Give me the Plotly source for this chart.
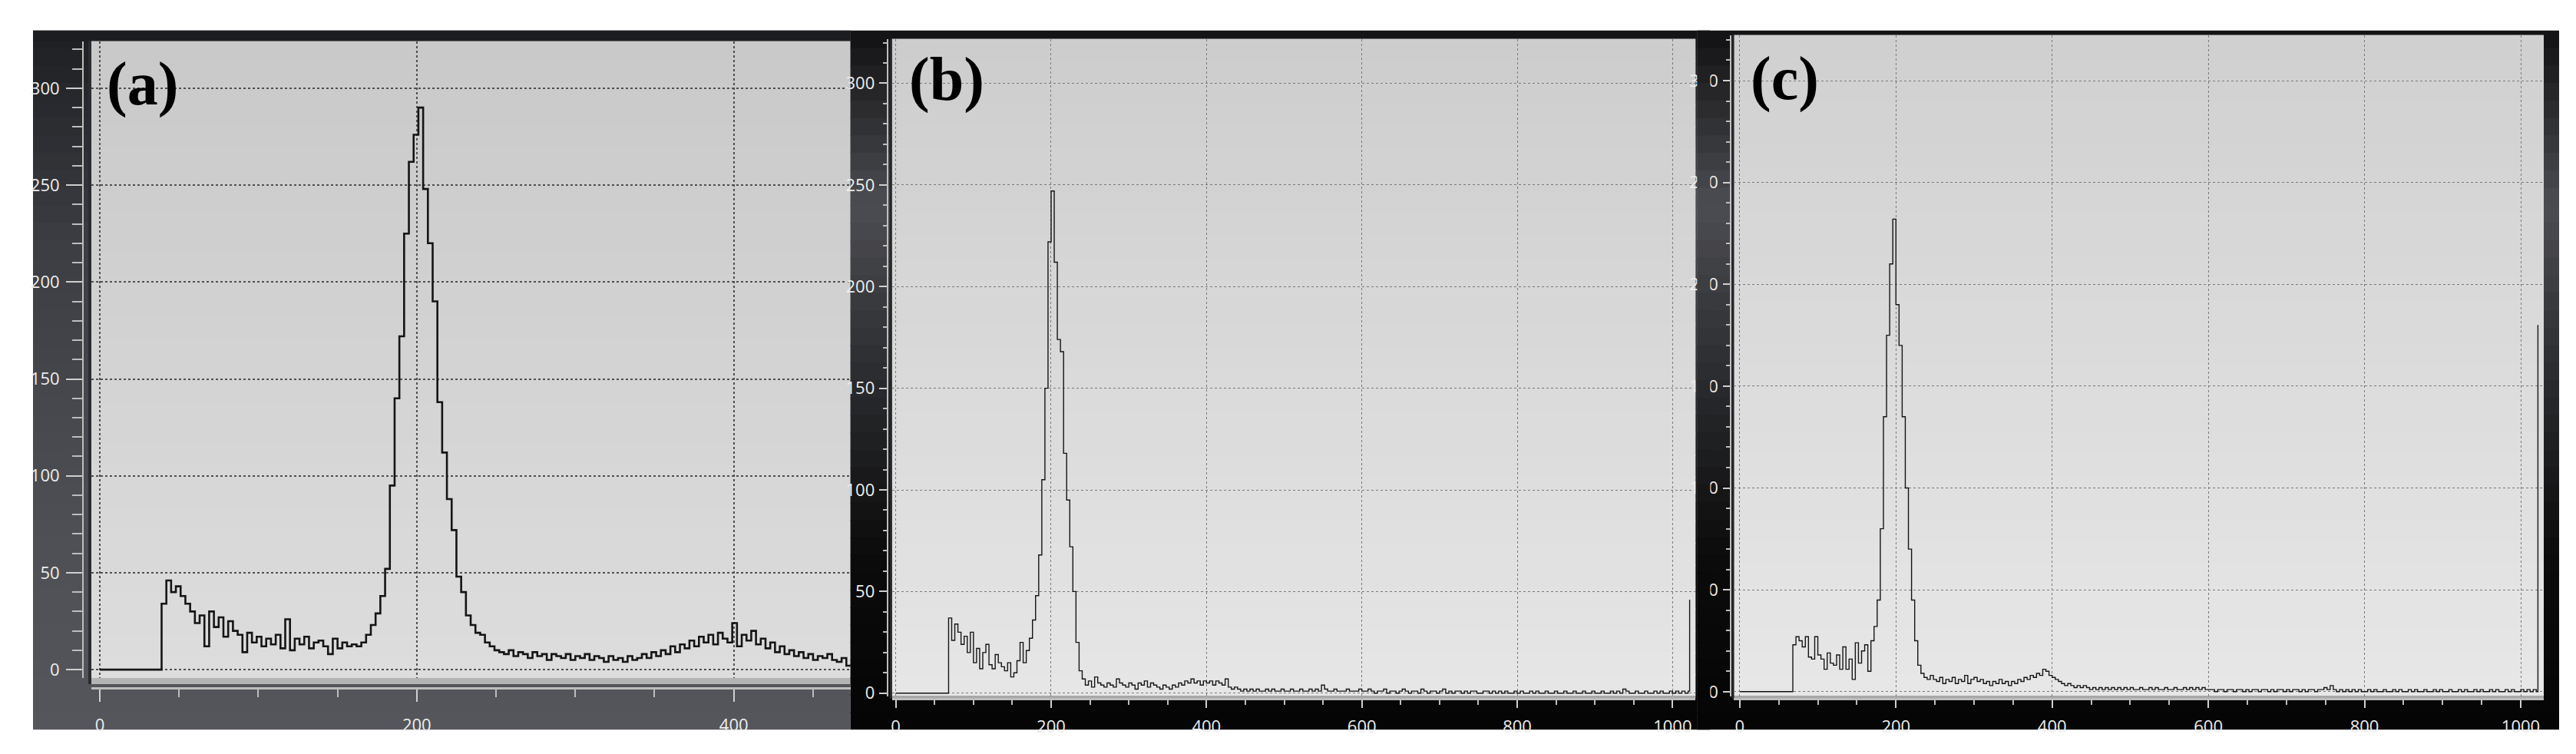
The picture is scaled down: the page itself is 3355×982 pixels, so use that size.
import plotly.graph_objects as go

W, H = 3355, 982

# ---- histogram counts ----
# (a): one value per 3 grey levels, starting at level 0
A_BIN = 3
A_COUNTS = [0] * 13 + [
    34, 46, 40, 43, 38, 34, 30, 24, 28, 12,
    30, 22, 27, 17, 25, 20, 18, 9, 19, 14,
    17, 12, 16, 13, 18, 11, 26, 10, 16, 13,
    17, 11, 14, 15, 12, 8, 16, 11, 14, 12,
    13, 12, 14, 18, 23, 29, 38, 52, 95, 140,
    172, 225, 262, 276, 290, 248, 220, 190, 138, 112,
    88, 72, 48, 40, 28, 23, 19, 18, 14, 12,
    10,
    9, 8, 10, 7, 9, 8, 6, 9, 7, 8,
    5, 8, 7, 6, 8, 5, 7, 6, 8, 5,
    7, 6, 4, 7, 5, 6, 4, 7, 5, 6,
    8, 6, 9, 7, 10, 8, 12, 9, 13, 11,
    15, 12, 17, 14, 18, 13, 19, 16, 14, 24,
    12, 18, 15, 20, 13, 16, 11, 14, 9, 12,
    8, 10, 7, 9, 6, 8, 5, 7, 6, 8,
    5, 4, 6, 2, 3,
]

# (b) and (c): one value per 4 grey levels, starting at level 0
B_BIN = 4
B_COUNTS = [0] * 17 + [
    37, 26, 34, 30, 24, 28, 20, 30, 15, 22,
    12, 20, 24, 14, 12, 19, 15, 13, 11, 15,
    8, 10, 16, 25, 15, 21, 27, 36, 48, 68,
    105, 150, 222, 247, 212, 174, 168, 118, 95, 72,
    50, 25, 11, 7,
    4, 6, 3, 8, 5, 4, 3, 5, 4, 3,
    7, 5, 4, 3, 5, 4, 2, 5, 4, 6,
    3, 5, 4, 3, 2, 4, 3, 2, 4, 3,
    5, 4, 6, 5, 7, 5, 6, 4, 6, 5,
    6, 4, 6, 5, 4, 7, 3, 2, 3, 2,
    1, 2, 1, 2, 1, 2, 1, 1, 2,
    1, 2, 1, 1, 2, 1, 1, 2, 1, 1,
    2, 1, 1, 2, 1, 2, 1, 4, 2, 1,
    1, 2, 1, 1, 1, 2, 1, 1, 1, 2,
    1, 1, 2, 1, 0, 1, 1, 2, 0, 1,
    1, 0, 1, 2, 1, 0, 1, 1, 0, 2,
    1, 0, 1, 1, 0, 1, 2, 0, 1, 0,
    1, 1, 0, 1, 0, 1, 1, 0, 0, 1,
    1, 0, 1, 0, 1, 0, 1, 0, 0, 1,
    0, 1, 0, 0, 1, 0, 1, 0, 0, 1,
    0, 0, 1, 0, 0, 1, 0, 0, 1, 0,
    0, 1, 0, 0, 1, 0, 0, 1, 0, 0,
    1, 0, 1, 0, 2, 1, 0, 0, 1, 0,
    0, 1, 0, 0, 1, 0, 1, 0, 0, 1,
    0, 1, 0, 1, 0, 1,
]
B_LAST_LEVEL, B_LAST_COUNT = 1022, 46

C_BIN = 4
C_COUNTS = [0] * 17 + [
    23, 27, 25, 22, 27, 17, 16, 27, 18, 16,
    11, 19, 14, 13, 18, 11, 22, 11, 16, 6,
    24, 14, 20, 23, 10, 25, 32, 45, 80, 135,
    175, 210, 232, 190, 170, 135, 100, 70, 45, 25,
    13, 9, 7, 6, 8, 6,
    5, 7, 4, 6, 5, 7, 4, 6, 5, 8,
    4, 6, 7, 5, 6, 4, 5, 3, 5, 4,
    6, 4, 5, 3, 5, 4, 6, 5, 7, 6,
    8, 7, 9, 8, 11, 10, 8, 7, 6, 5,
    4, 3, 4, 3, 2, 3, 2, 3, 2, 1,
    2, 1, 2, 1, 2, 1, 2,
    1, 2, 1, 2, 1, 2, 1, 1, 2, 1,
    1, 2, 1, 2, 1, 1, 2, 1, 1, 2,
    1, 1, 2, 1, 2, 1, 2, 1, 2, 1,
    1, 1, 0, 1, 1, 0, 1, 1, 0, 1,
    1, 0, 1, 0, 1, 1, 0, 1, 1, 0,
    1, 0, 1, 1, 0, 1, 0, 1, 1, 0,
    1, 0, 1, 1, 0, 1, 1, 2, 1, 3,
    1, 0, 1, 0, 1, 0, 1, 0, 1, 0,
    0, 1, 0, 1, 0, 0, 1, 0, 0, 1,
    0, 1, 0, 0, 1, 0, 1, 0, 0, 1,
    0, 0, 1, 0, 1, 0, 0, 1, 0, 0,
    1, 0, 1, 0, 0, 1, 0, 1, 0, 0,
    1, 0, 1, 0, 0, 1, 0, 1, 0, 0,
    1, 0, 1, 0, 1, 0,
]
C_LAST_LEVEL, C_LAST_COUNT = 1022, 180

Y_TICKS = [0, 50, 100, 150, 200, 250, 300]
X_TICKS_A = [0, 200, 400]
X_TICKS_BC = [0, 200, 400, 600, 800, 1000]
LABELS = ["(a)", "(b)", "(c)"]


def px(x):
    return x / W


def py(y):
    return 1 - y / H


def mix(stops, t):
    for (t0, c0), (t1, c1) in zip(stops, stops[1:]):
        if t <= t1:
            f = 0 if t1 == t0 else (t - t0) / (t1 - t0)
            a = [int(c0[i:i + 2], 16) for i in (1, 3, 5)]
            b = [int(c1[i:i + 2], 16) for i in (1, 3, 5)]
            return "rgb(%d,%d,%d)" % tuple(round(p + (q - p) * f) for p, q in zip(a, b))
    return stops[-1][1]


shapes = []


def rect(x0, x1, y0, y1, color, layer="below"):
    shapes.append(dict(type="rect", xref="paper", yref="paper", layer=layer,
                       x0=px(x0), x1=px(x1), y0=py(y1), y1=py(y0),
                       fillcolor=color, line=dict(width=0)))


def grad(x0, x1, y0, y1, stops, n=40, layer="below"):
    h = (y1 - y0) / n
    for i in range(n):
        rect(x0, x1, y0 + i * h, min(y1, y0 + (i + 1) * h + 1), mix(stops, (i + 0.5) / n), layer)


frame_dark = [(0, "#111113"), (0.25, "#4c4d52"), (0.5, "#2a2b2e"), (0.75, "#0b0b0b"), (1, "#050505")]

# panel (a) screenshot
grad(34, 1099, 32, 952, [(0, "#1e1f23"), (0.3, "#3b3d42"), (0.7, "#4d4f54"), (1, "#55565b")])
rect(34, 1099, 32, 46, "#1c1d21")
grad(110, 1099, 46, 884, [(0, "#c9c9c9"), (1, "#dddddd")], n=30)
rect(110, 1099, 884, 892, "#b4b4b4")
rect(106, 110, 46, 892, "#2c2d31")

# panel (b) screenshot
grad(1099, 2202, 32, 952, frame_dark)
grad(1153, 2200, 43, 908, [(0, "#cdcdcd"), (1, "#e6e6e6")], n=30)
rect(1153, 2200, 908, 911, "#a6a6a6")
rect(1150, 1153, 43, 911, "#26272a")

# panel (c) screenshot
grad(2202, 3325, 32, 952, frame_dark)
grad(2250, 3305, 38, 908, [(0, "#d0d0d0"), (1, "#e7e7e7")], n=30)
rect(2250, 3305, 908, 911, "#a6a6a6")
rect(2247, 2250, 38, 911, "#26272a")
# the left part of panel (c)'s y labels is hidden under the crop edge
grad(2202, 2219, 32, 952, frame_dark, layer="above")

fig = go.Figure()

series = [
    ([i * A_BIN for i in range(len(A_COUNTS))], A_COUNTS, 2.6),
    ([i * B_BIN for i in range(len(B_COUNTS))] + [B_LAST_LEVEL], B_COUNTS + [B_LAST_COUNT], 1.4),
    ([i * C_BIN for i in range(len(C_COUNTS))] + [C_LAST_LEVEL], C_COUNTS + [C_LAST_COUNT], 1.4),
]
for k, (xs, ys, lw) in enumerate(series):
    sfx = "" if k == 0 else str(k + 1)
    fig.add_trace(go.Scatter(x=xs, y=ys, mode="lines", line=dict(color="#151515", width=lw, shape="hv"),
                             xaxis="x" + sfx, yaxis="y" + sfx, showlegend=False, hoverinfo="skip"))

tick_font = dict(family="Open Sans", size=22, color="#eeeeee")

# per-panel geometry in pixels: plot box, zero pixel, px per unit, axis line positions
panels = [
    dict(box=(110, 1099, 46, 884), x0=121, sx=2.065, y0=873, sy=2.55, xline=897, yline=99,
         xt=X_TICKS_A, grid="#505050", gw=2.2, xlen=16, xmin=10, ylen=21, ymin=13, xs=12, ys=4),
    dict(box=(1153, 2200, 43, 908), x0=1158, sx=1.012, y0=904, sy=2.675, xline=911, yline=1147,
         xt=X_TICKS_BC, grid="#7a7a7a", gw=1.4, xlen=10, xmin=6, ylen=10, ymin=5, xs=6, ys=1),
    dict(box=(2250, 3305, 38, 908), x0=2257.5, sx=1.0175, y0=902, sy=2.68, xline=911, yline=2246,
         xt=X_TICKS_BC, grid="#7a7a7a", gw=1.4, xlen=10, xmin=6, ylen=9, ymin=5, xs=6, ys=2),
]

layout = {}
for k, p in enumerate(panels):
    sfx = "" if k == 0 else str(k + 1)
    l, r, t, b = p["box"]
    layout["xaxis" + sfx] = dict(
        domain=[px(l), px(r)], range=[(l - p["x0"]) / p["sx"], (r - p["x0"]) / p["sx"]],
        anchor="free", position=py(p["xline"]),
        tickmode="array", tickvals=p["xt"], ticks="outside", ticklen=p["xlen"], tickwidth=2,
        tickcolor="#cfcfcf", tickfont=tick_font, ticklabelstandoff=p["xs"],
        minor=dict(dtick=50, tick0=0, ticks="outside", ticklen=p["xmin"], tickwidth=2,
                   tickcolor="#bdbdbd", showgrid=False),
        showline=True, linecolor="#bdbdbd", linewidth=3,
        showgrid=True, gridcolor=p["grid"], gridwidth=p["gw"], griddash="dot",
        zeroline=False, fixedrange=True)
    layout["yaxis" + sfx] = dict(
        domain=[py(b), py(t)], range=[(p["y0"] - b) / p["sy"], (p["y0"] - t) / p["sy"]],
        anchor="free", position=px(p["yline"]),
        tickmode="array", tickvals=Y_TICKS, ticks="outside", ticklen=p["ylen"], tickwidth=2,
        tickcolor="#cfcfcf", tickfont=tick_font, ticklabelstandoff=p["ys"],
        minor=dict(dtick=10, tick0=0, ticks="outside", ticklen=p["ymin"], tickwidth=2,
                   tickcolor="#bdbdbd", showgrid=False),
        showline=True, linecolor="#bdbdbd", linewidth=2,
        showgrid=True, gridcolor=p["grid"], gridwidth=p["gw"], griddash="dot",
        zeroline=False, fixedrange=True)

label_pos = [(128, 103), (1173, 96), (2270, 95)]
annotations = [dict(text="<b>%s</b>" % s, xref="paper", yref="paper", x=px(x), y=py(y),
                    xanchor="left", yanchor="middle", showarrow=False,
                    font=dict(family="Liberation Serif", size=80, color="#000000"))
               for s, (x, y) in zip(LABELS, label_pos)]

fig.update_layout(width=W, height=H, margin=dict(l=0, r=0, t=0, b=0),
                  paper_bgcolor="#ffffff", plot_bgcolor="rgba(0,0,0,0)",
                  shapes=shapes, annotations=annotations, showlegend=False, **layout)

fig.write_html("out.html")
